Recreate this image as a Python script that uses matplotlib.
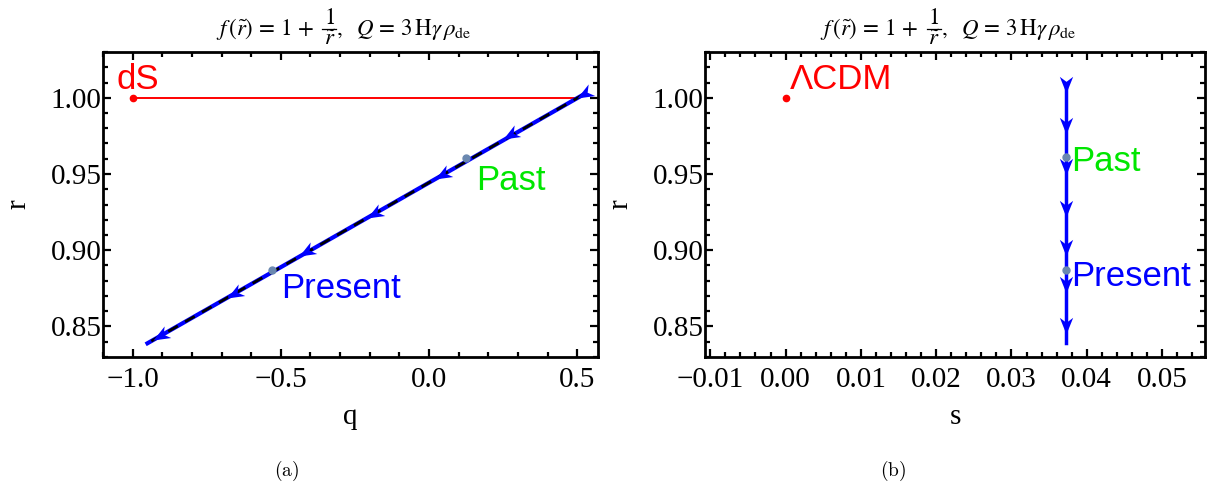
import numpy as np
import matplotlib
matplotlib.use("Agg")
import matplotlib.pyplot as plt
from matplotlib.lines import Line2D
from matplotlib.markers import MarkerStyle
from matplotlib.path import Path
from matplotlib.transforms import Affine2D
from matplotlib.ticker import MultipleLocator

# ---- data ----
# panel (a): trajectory in the q-r plane
traj_q = [0.52, -0.95]
traj_r = [1.002, 0.839]
arrow_q = [0.50, 0.25, 0.02, -0.21, -0.44, -0.68, -0.93]
arrow_r = [1.000, 0.973, 0.947, 0.921, 0.896, 0.869, 0.841]
ds_q, ds_r = -1.0, 1.0
ds_line_q = [-1.0, 0.50]
ds_line_r = [1.0, 1.0]
past_a = (0.125, 0.9605)
present_a = (-0.53, 0.887)

# panel (b): trajectory in the s-r plane
traj_s = [0.0373, 0.0373]
traj_r_b = [1.007, 0.839]
arrow_r_b = [1.003, 0.976, 0.9495, 0.922, 0.896, 0.872, 0.845]
lcdm_s, lcdm_r = 0.0, 1.0
past_b = (0.0373, 0.961)
present_b = (0.0373, 0.887)

PT_COLOR = "#6a88b0"
BLUE = "#0000ff"
RED = "#ff0000"
GREEN = "#00e600"
W, H = 1212, 498

plt.rcParams["font.family"] = ["Liberation Serif", "DejaVu Serif"]
plt.rcParams["mathtext.fontset"] = "stix"

fig = plt.figure(figsize=(W / 100, H / 100), dpi=100)
ax1 = fig.add_axes([103 / W, 1 - 357 / H, 495 / W, 305 / H])
ax2 = fig.add_axes([705 / W, 1 - 357 / H, 500 / W, 305 / H])

# concave arrowhead, tip at the origin, pointing along +x
HEAD = Path([(0.0, 0.0), (-1.0, 0.4), (-0.7, 0.0), (-1.0, -0.4), (0.0, 0.0)],
            [Path.MOVETO, Path.LINETO, Path.LINETO, Path.LINETO, Path.CLOSEPOLY])


def arrowhead(ax, x, y, dx, dy):
    p0 = ax.transData.transform((x, y))
    p1 = ax.transData.transform((x + dx, y + dy))
    ang = np.degrees(np.arctan2(p1[1] - p0[1], p1[0] - p0[0]))
    m = MarkerStyle(HEAD, transform=Affine2D().rotate_deg(ang))
    ax.plot([x], [y], marker=m, ms=24, color=BLUE, mew=0, zorder=4)


def title(ax):
    # f(r~) = 1 + 1/r~,  Q = 3 H gamma rho_de  (built in pieces so the fraction is full size)
    b = ax.get_position()
    xc = (b.x0 + b.x1) / 2 * W
    fs = 16.5
    fig.text((xc - 36) / W, 1 - 35 / H, r"$f\,(\tilde{r})\, =\, 1\, +$", fontsize=fs,
             ha="right", va="baseline")
    fig.text((xc - 21) / W, 1 - 24 / H, r"$1$", fontsize=fs, ha="center", va="baseline")
    fig.text((xc - 21) / W, 1 - 45 / H, r"$\tilde{r}$", fontsize=fs, ha="center",
             va="baseline")
    fig.add_artist(Line2D([(xc - 28) / W, (xc - 14) / W], [1 - 29 / H, 1 - 29 / H],
                          color="black", lw=0.9, transform=fig.transFigure))
    fig.text((xc - 14) / W, 1 - 35 / H,
             r"$,\ \ Q\, =\, 3\,\mathrm{H}\gamma\,\rho_{\mathrm{de}}$", fontsize=fs,
             ha="left", va="baseline")


def style_axes(ax):
    for sp in ax.spines.values():
        sp.set_linewidth(2.0)
    ax.tick_params(which="both", direction="in", top=True, right=True,
                   width=1.6, labelsize=21)
    ax.tick_params(which="major", length=6)
    ax.tick_params(which="minor", length=3.5)
    ax.tick_params(axis="y", pad=1)
    ax.tick_params(axis="x", pad=7)


# ---- (a) ----
ax1.set_xlim(-1.1, 0.57)
ax1.set_ylim(0.83, 1.03)
ax1.plot(ds_line_q, ds_line_r, color=RED, lw=1.4)
ax1.plot([ds_q], [ds_r], "o", color=RED, ms=4.5)
ax1.plot(traj_q, traj_r, color=BLUE, lw=3)
ax1.plot(traj_q, traj_r, color="black", lw=2, dashes=(4, 3))
for q, r in zip(arrow_q, arrow_r):
    arrowhead(ax1, q, r, -0.1, -0.1 * 0.1109)
ax1.plot(*past_a, "o", color=PT_COLOR, ms=5, zorder=5)
ax1.plot(*present_a, "o", color=PT_COLOR, ms=5, zorder=5)
ax1.text(-1.055, 1.006, "dS", color=RED, fontsize=25, family="Liberation Sans")
ax1.text(0.16, 0.946, "Past", color=GREEN, fontsize=25, family="Liberation Sans",
         va="center")
ax1.text(-0.50, 0.875, "Present", color=BLUE, fontsize=25, family="Liberation Sans",
         va="center")
ax1.xaxis.set_major_locator(MultipleLocator(0.5))
ax1.xaxis.set_minor_locator(MultipleLocator(0.1))
ax1.yaxis.set_major_locator(MultipleLocator(0.05))
ax1.yaxis.set_minor_locator(MultipleLocator(0.01))
ax1.xaxis.set_major_formatter(lambda v, p: f"{v:.1f}".replace("-", "\u2212"))
ax1.yaxis.set_major_formatter(lambda v, p: f"{v:.2f}")
ax1.set_xlabel("q", fontsize=21, labelpad=8)
ax1.set_ylabel("r", fontsize=21, labelpad=14)
style_axes(ax1)
title(ax1)

# ---- (b) ----
ax2.set_xlim(-0.0107, 0.0557)
ax2.set_ylim(0.83, 1.03)
ax2.plot([lcdm_s], [lcdm_r], "o", color=RED, ms=4.5)
ax2.text(0.0005, 1.006, "\u039bCDM", color=RED, fontsize=25, family="Liberation Sans")
ax2.plot(traj_s, traj_r_b, color=BLUE, lw=2.5)
for r in arrow_r_b:
    arrowhead(ax2, traj_s[0], r, 0, -0.01)
ax2.plot(*past_b, "o", color=PT_COLOR, ms=5, zorder=5)
ax2.plot(*present_b, "o", color=PT_COLOR, ms=5, zorder=5)
ax2.text(0.0379, 0.958, "Past", color=GREEN, fontsize=25, family="Liberation Sans",
         va="center")
ax2.text(0.0379, 0.883, "Present", color=BLUE, fontsize=25, family="Liberation Sans",
         va="center")
ax2.xaxis.set_major_locator(MultipleLocator(0.01))
ax2.xaxis.set_minor_locator(MultipleLocator(0.002))
ax2.yaxis.set_major_locator(MultipleLocator(0.05))
ax2.yaxis.set_minor_locator(MultipleLocator(0.01))
ax2.xaxis.set_major_formatter(lambda v, p: f"{v:.2f}".replace("-", "\u2212"))
ax2.yaxis.set_major_formatter(lambda v, p: f"{v:.2f}")
ax2.set_xlabel("s", fontsize=21, labelpad=8)
ax2.set_ylabel("r", fontsize=21, labelpad=14)
style_axes(ax2)
title(ax2)

fig.text(0.236, 0.045, r"$\mathrm{(a)}$", fontsize=14, ha="center", math_fontfamily="cm")
fig.text(0.737, 0.045, r"$\mathrm{(b)}$", fontsize=14, ha="center", math_fontfamily="cm")

fig.savefig("out.png", dpi=100)
